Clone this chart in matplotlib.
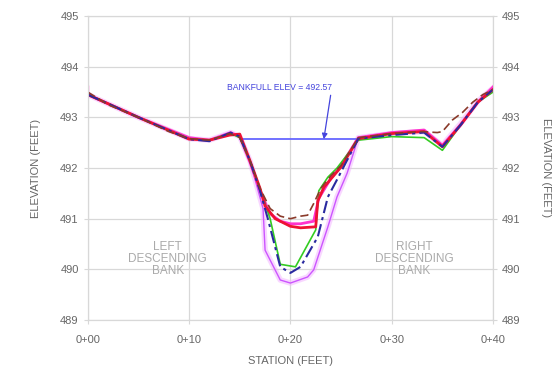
import numpy as np
import matplotlib.pyplot as plt

plt.rcParams['font.family'] = ['Liberation Sans', 'DejaVu Sans']

# Cross-section survey data (station in feet, elevation in feet)
st_brown = [0, 2, 5, 8, 10, 12, 14, 15, 16, 17, 18, 19, 20, 21, 21.7, 22.3, 23, 24, 25, 26.7, 30, 33, 34.5, 35, 36, 37, 38, 39, 40]
el_brown = [493.5, 493.25, 493.0, 492.72, 492.58, 492.55, 492.68, 492.6, 492.15, 491.6, 491.2, 491.05, 491.0, 491.05, 491.07, 491.3, 491.6, 491.85, 492.05, 492.6, 492.68, 492.72, 492.7, 492.72, 492.95, 493.1, 493.3, 493.45, 493.55]

st_red = [0, 5, 10, 12, 14, 15, 16, 17, 17.5, 18.5, 20, 21, 22.5, 22.7, 23.3, 25, 26.7, 30, 33.2, 35, 36.8, 38.5, 40]
el_red = [493.45, 493.0, 492.57, 492.55, 492.65, 492.67, 492.15, 491.6, 491.25, 491.0, 490.85, 490.82, 490.84, 491.35, 491.62, 492.02, 492.58, 492.68, 492.72, 492.42, 492.85, 493.3, 493.55]

st_green = [0, 5, 10, 12, 14.1, 15, 16, 17, 18, 19, 20.5, 22.5, 22.8, 23.7, 24.6, 26.7, 30, 33.2, 35, 36.8, 38.5, 40]
el_green = [493.45, 493.0, 492.58, 492.55, 492.68, 492.6, 492.15, 491.6, 491.0, 490.1, 490.05, 490.78, 491.55, 491.82, 492.0, 492.55, 492.62, 492.6, 492.35, 492.85, 493.3, 493.5]

st_blue = [0, 5, 10, 12, 14.1, 15, 16, 17, 17.8, 19, 20, 21, 22.7, 23.7, 24.6, 26.7, 30, 33.2, 35, 36.8, 38.5, 40]
el_blue = [493.45, 493.0, 492.57, 492.53, 492.7, 492.62, 492.15, 491.55, 490.98, 490.05, 489.93, 490.05, 490.64, 491.43, 491.77, 492.58, 492.65, 492.7, 492.42, 492.85, 493.3, 493.55]

st_violet = [0, 5, 10, 12, 14.1, 15, 16, 17.3, 17.5, 19, 20, 21.7, 22.3, 23.7, 24.6, 25.6, 26.7, 30, 33.2, 35, 36.8, 38.5, 40]
el_violet = [493.45, 493.0, 492.58, 492.55, 492.7, 492.62, 492.15, 491.2, 490.38, 489.79, 489.73, 489.85, 489.99, 490.84, 491.43, 491.9, 492.6, 492.68, 492.72, 492.45, 492.88, 493.32, 493.58]

st_magenta = [0, 0, 5, 10, 12, 14.1, 15, 16, 17, 18, 19, 20, 21, 22.3, 22.8, 24, 25, 26.7, 30, 33.2, 35, 36.8, 38.5, 40]
el_magenta = [493.6, 493.45, 493.0, 492.6, 492.55, 492.7, 492.62, 492.12, 491.55, 491.1, 490.95, 490.9, 490.9, 490.95, 491.4, 491.8, 492.05, 492.6, 492.7, 492.75, 492.45, 492.85, 493.3, 493.6]

bankfull = 492.57
bankfull_st = [15.0, 26.7]

xticks = [0, 10, 20, 30, 40]
xticklabels = ['0+00', '0+10', '0+20', '0+30', '0+40']
yticks = [489, 490, 491, 492, 493, 494, 495]

fig = plt.figure(figsize=(5.59, 3.73), dpi=100)
ax = fig.add_axes([0.157, 0.142, 0.725, 0.815])

grid_c = '#d8d8d8'
text_c = '#666666'

# violet glow underneath
ax.plot(st_violet, el_violet, color='#f3b0ff', lw=4, alpha=0.5, zorder=2)
ax.plot(st_violet, el_violet, color='#cc55ff', lw=1.0, zorder=3)
ax.plot(st_magenta, el_magenta, color='#ff33cc', lw=2.0, zorder=3)
ax.plot(st_green, el_green, color='#33cc22', lw=1.2, zorder=4)
ax.plot(st_red, el_red, color='#ee1133', lw=2.0, zorder=4)
ax.plot(st_blue, el_blue, color='#2a2aa0', lw=1.5, ls=(0, (6, 2, 1.5, 2)), zorder=5)
ax.plot(st_brown, el_brown, color='#8a3a2a', lw=1.2, ls=(0, (5, 2.5)), zorder=5)

ax.plot(bankfull_st, [bankfull, bankfull], color='#6666ff', lw=1.3, zorder=3)
ax.annotate('BANKFULL ELEV = 492.57', xy=(23.3, bankfull), xytext=(18.9, 493.58),
            color='#4444dd', fontsize=6.2, ha='center', va='center',
            arrowprops=dict(arrowstyle='-|>', color='#4444dd', lw=0.9,
                            shrinkA=0, shrinkB=0, mutation_scale=8,
                            relpos=(1.0, 0.5)))

ax.text(7.9, 490.2, 'LEFT\nDESCENDING\nBANK', color='#aaaaaa', fontsize=8.5,
        ha='center', va='center', linespacing=1.0)
ax.text(32.2, 490.2, 'RIGHT\nDESCENDING\nBANK', color='#aaaaaa', fontsize=8.5,
        ha='center', va='center', linespacing=1.0)

ax.set_xlim(0, 40)
ax.set_ylim(489, 495)
ax.set_xticks(xticks)
ax.set_xticklabels(xticklabels)
ax.set_yticks(yticks)
ax.grid(True, color=grid_c, lw=0.9)
ax.set_axisbelow(True)
for s in ax.spines.values():
    s.set_color(grid_c)
ax.tick_params(colors=text_c, labelsize=8, length=3, color=grid_c)
ax.tick_params(axis='x', pad=8)
ax.set_xlabel('STATION (FEET)', color=text_c, fontsize=8, labelpad=8)
ax.set_ylabel('ELEVATION (FEET)', color=text_c, fontsize=8, labelpad=14)

ax2 = ax.twinx()
ax2.set_ylim(489, 495)
ax2.set_yticks(yticks)
for s in ax2.spines.values():
    s.set_color(grid_c)
ax2.tick_params(colors=text_c, labelsize=8, length=3, color=grid_c)
ax2.set_ylabel('ELEVATION (FEET)', color=text_c, fontsize=8, rotation=-90, labelpad=22)

fig.savefig('out.png', dpi=100)
